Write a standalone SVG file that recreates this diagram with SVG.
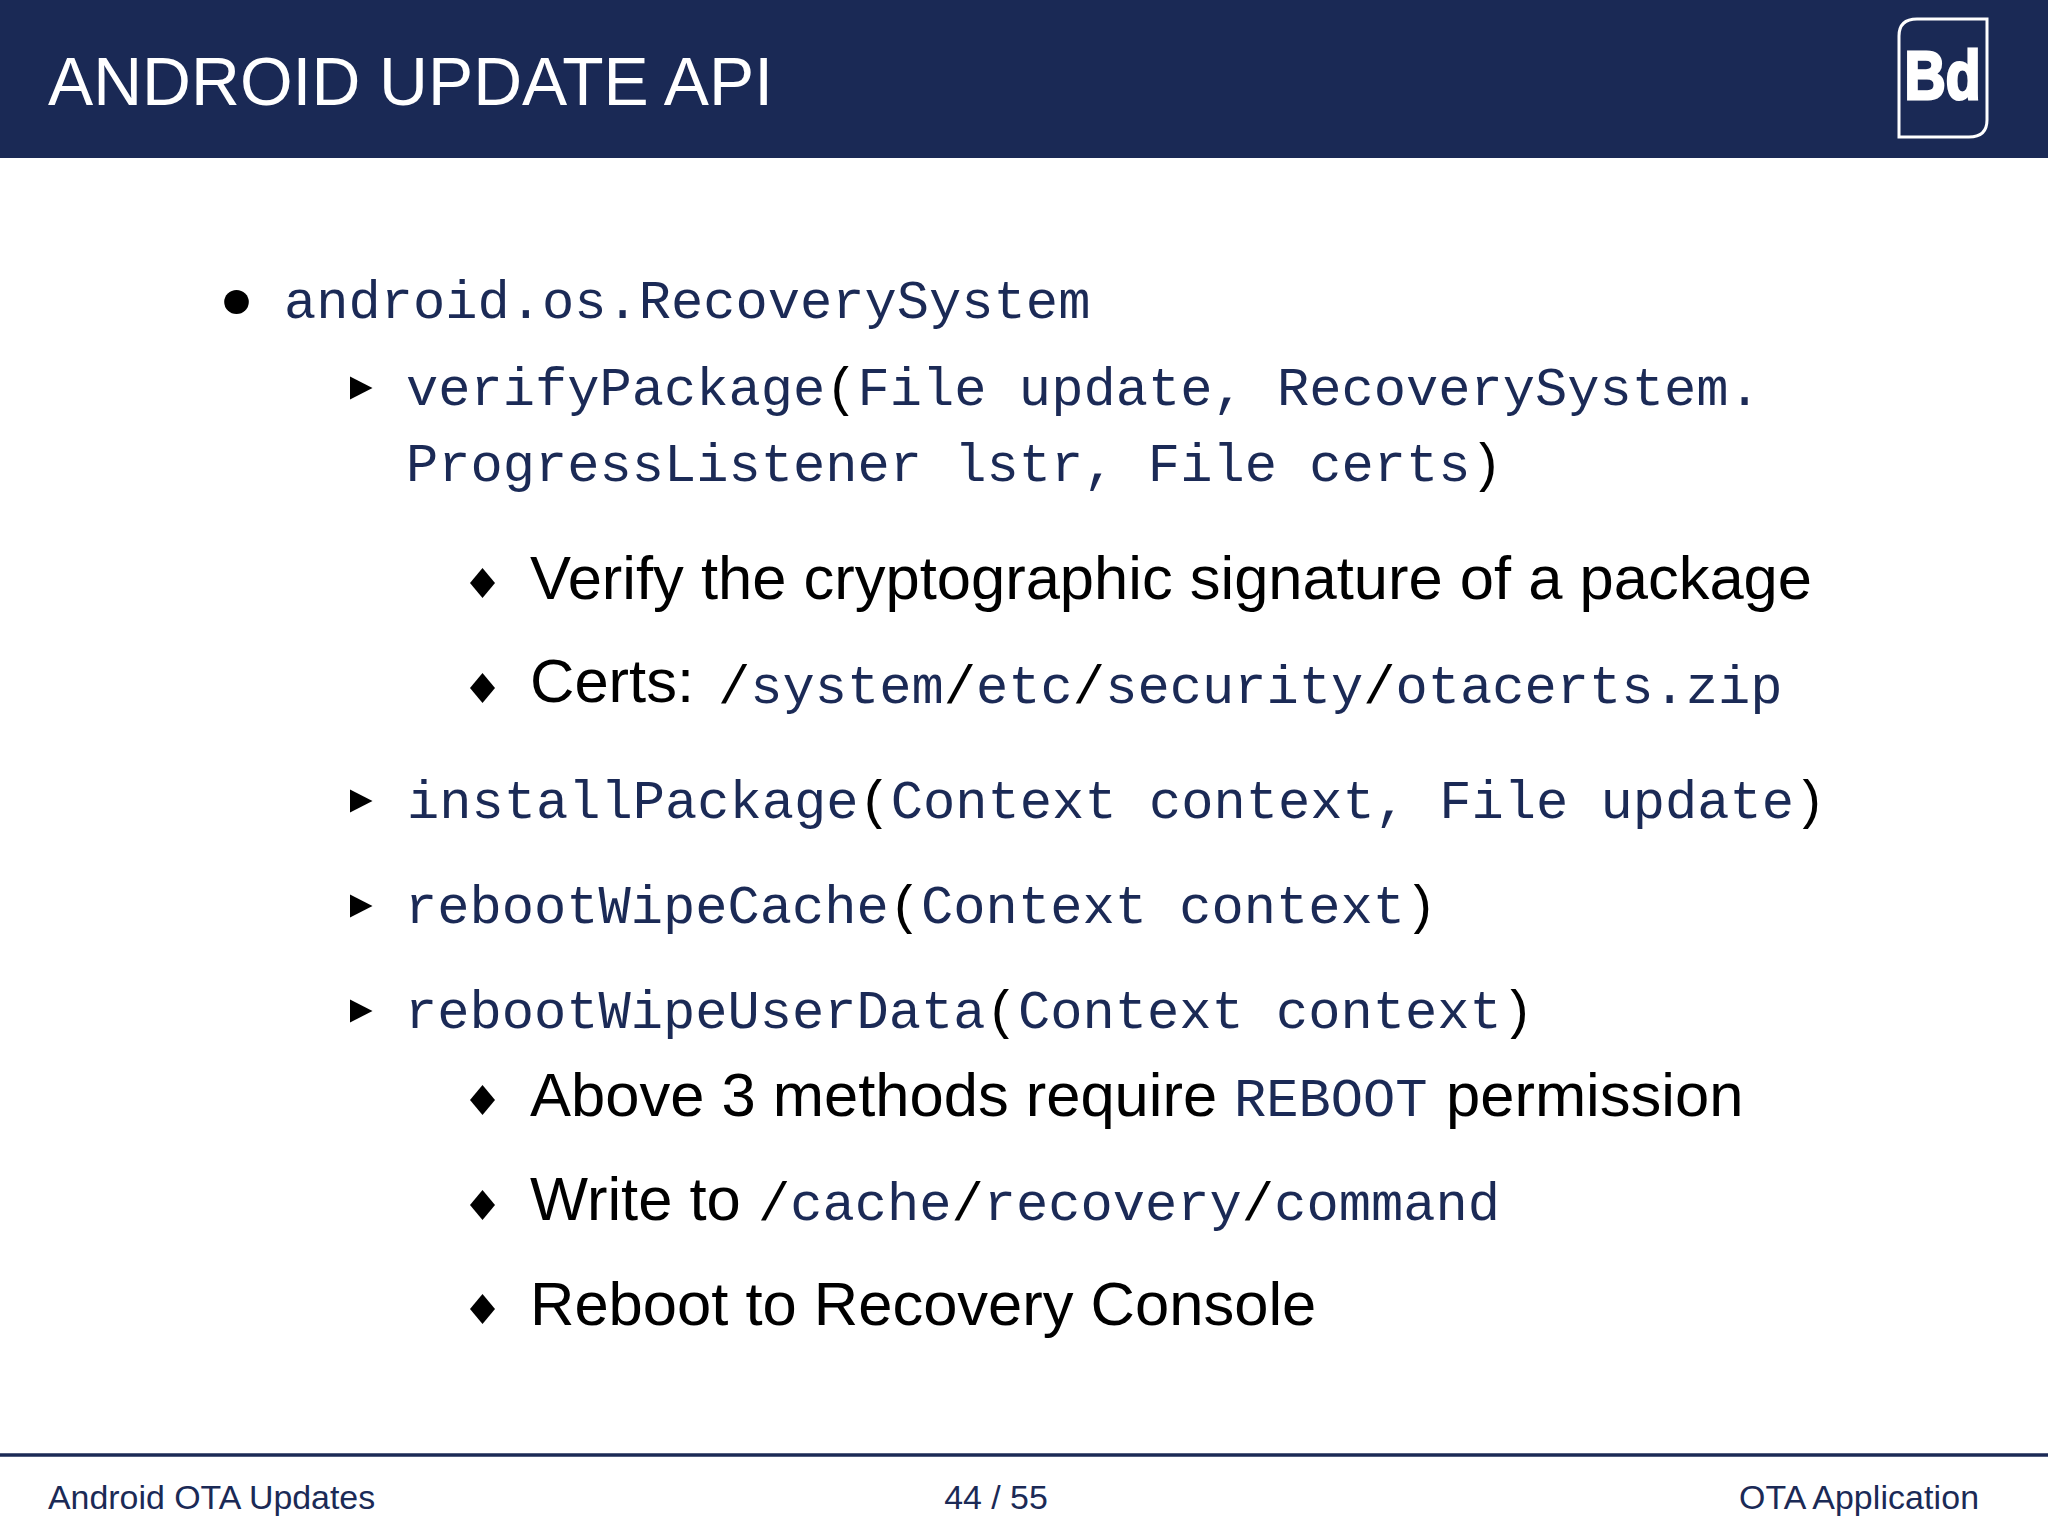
<svg xmlns="http://www.w3.org/2000/svg" width="2048" height="1536" viewBox="0 0 2048 1536">
<style>
.s{font-family:"Liberation Sans",Arial,sans-serif;fill:#000;font-size:61.500px}
.m{font-family:"Liberation Mono","Courier New",monospace;fill:#1b2a56;font-size:53.750px}
.b{fill:#000}
.k{fill:#000}
.f{font-family:"Liberation Sans",Arial,sans-serif;fill:#1b2a56;font-size:33.900px}
</style>
<defs>
<path id="tri" d="M0 -11.500L22.500 0L0 11.500Z"/>
<path id="dia" d="M0 -15L12.500 0L0 15L-12.500 0Z"/>
</defs>
<rect width="2048" height="158" fill="#1a2955"/>
<text x="48" y="105" font-family="Liberation Sans" font-size="69" fill="#fff" textLength="725" lengthAdjust="spacingAndGlyphs">ANDROID UPDATE API</text>
<g id="logo">
<path d="M1899 36Q1899 19 1917 19H1987V120Q1987 137 1969 137H1899Z" fill="none" stroke="#fff" stroke-width="3"/>
<text x="1904.500" y="99" font-family="Liberation Sans" font-weight="bold" font-size="68" fill="#fff" stroke="#fff" stroke-width="3" textLength="76" lengthAdjust="spacingAndGlyphs">Bd</text>
</g>
<g id="bullets" class="k">
<ellipse cx="236.500" cy="302" rx="12.300" ry="12"/>
<use href="#tri" x="350" y="388"/>
<use href="#tri" x="350" y="801"/>
<use href="#tri" x="350" y="906"/>
<use href="#tri" x="350" y="1011"/>
<use href="#dia" x="482.500" y="583"/>
<use href="#dia" x="482.500" y="688"/>
<use href="#dia" x="482.500" y="1100"/>
<use href="#dia" x="482.500" y="1205"/>
<use href="#dia" x="482.500" y="1309"/>
</g>
<g id="content">
<text class="m" x="284" y="318">android.os.RecoverySystem</text>
<text class="m" x="406" y="405">verifyPackage<tspan class="b">(</tspan>File update, RecoverySystem.</text>
<text class="m" x="406" y="481">ProgressListener lstr, File certs<tspan class="b">)</tspan></text>
<text class="s" x="530" y="599">Verify the cryptographic signature of a package</text>
<text class="s" x="530" y="702">Certs:</text>
<text class="m" x="718" y="703"><tspan class="b">/</tspan>system<tspan class="b">/</tspan>etc<tspan class="b">/</tspan>security<tspan class="b">/</tspan>otacerts.zip</text>
<text class="m" x="407" y="818">installPackage<tspan class="b">(</tspan>Context context, File update<tspan class="b">)</tspan></text>
<text class="m" x="405" y="923">rebootWipeCache<tspan class="b">(</tspan>Context context<tspan class="b">)</tspan></text>
<text class="m" x="405" y="1028">rebootWipeUserData<tspan class="b">(</tspan>Context context<tspan class="b">)</tspan></text>
<text class="s" x="530" y="1116">Above 3 methods require</text>
<text class="m" x="1234" y="1116">REBOOT</text>
<text class="s" x="1446" y="1116">permission</text>
<text class="s" x="530" y="1220">Write to</text>
<text class="m" x="758" y="1220"><tspan class="b">/</tspan>cache<tspan class="b">/</tspan>recovery<tspan class="b">/</tspan>command</text>
<text class="s" x="530" y="1325">Reboot to Recovery Console</text>
</g>
<line x1="0" x2="2048" y1="1455" y2="1455" stroke="#1b2a56" stroke-width="3.500"/>
<g id="footer">
<text class="f" x="48" y="1509">Android OTA Updates</text>
<text class="f" x="996" y="1509" text-anchor="middle">44 / 55</text>
<text class="f" x="1739" y="1509" textLength="240">OTA Application</text>
</g>
</svg>
